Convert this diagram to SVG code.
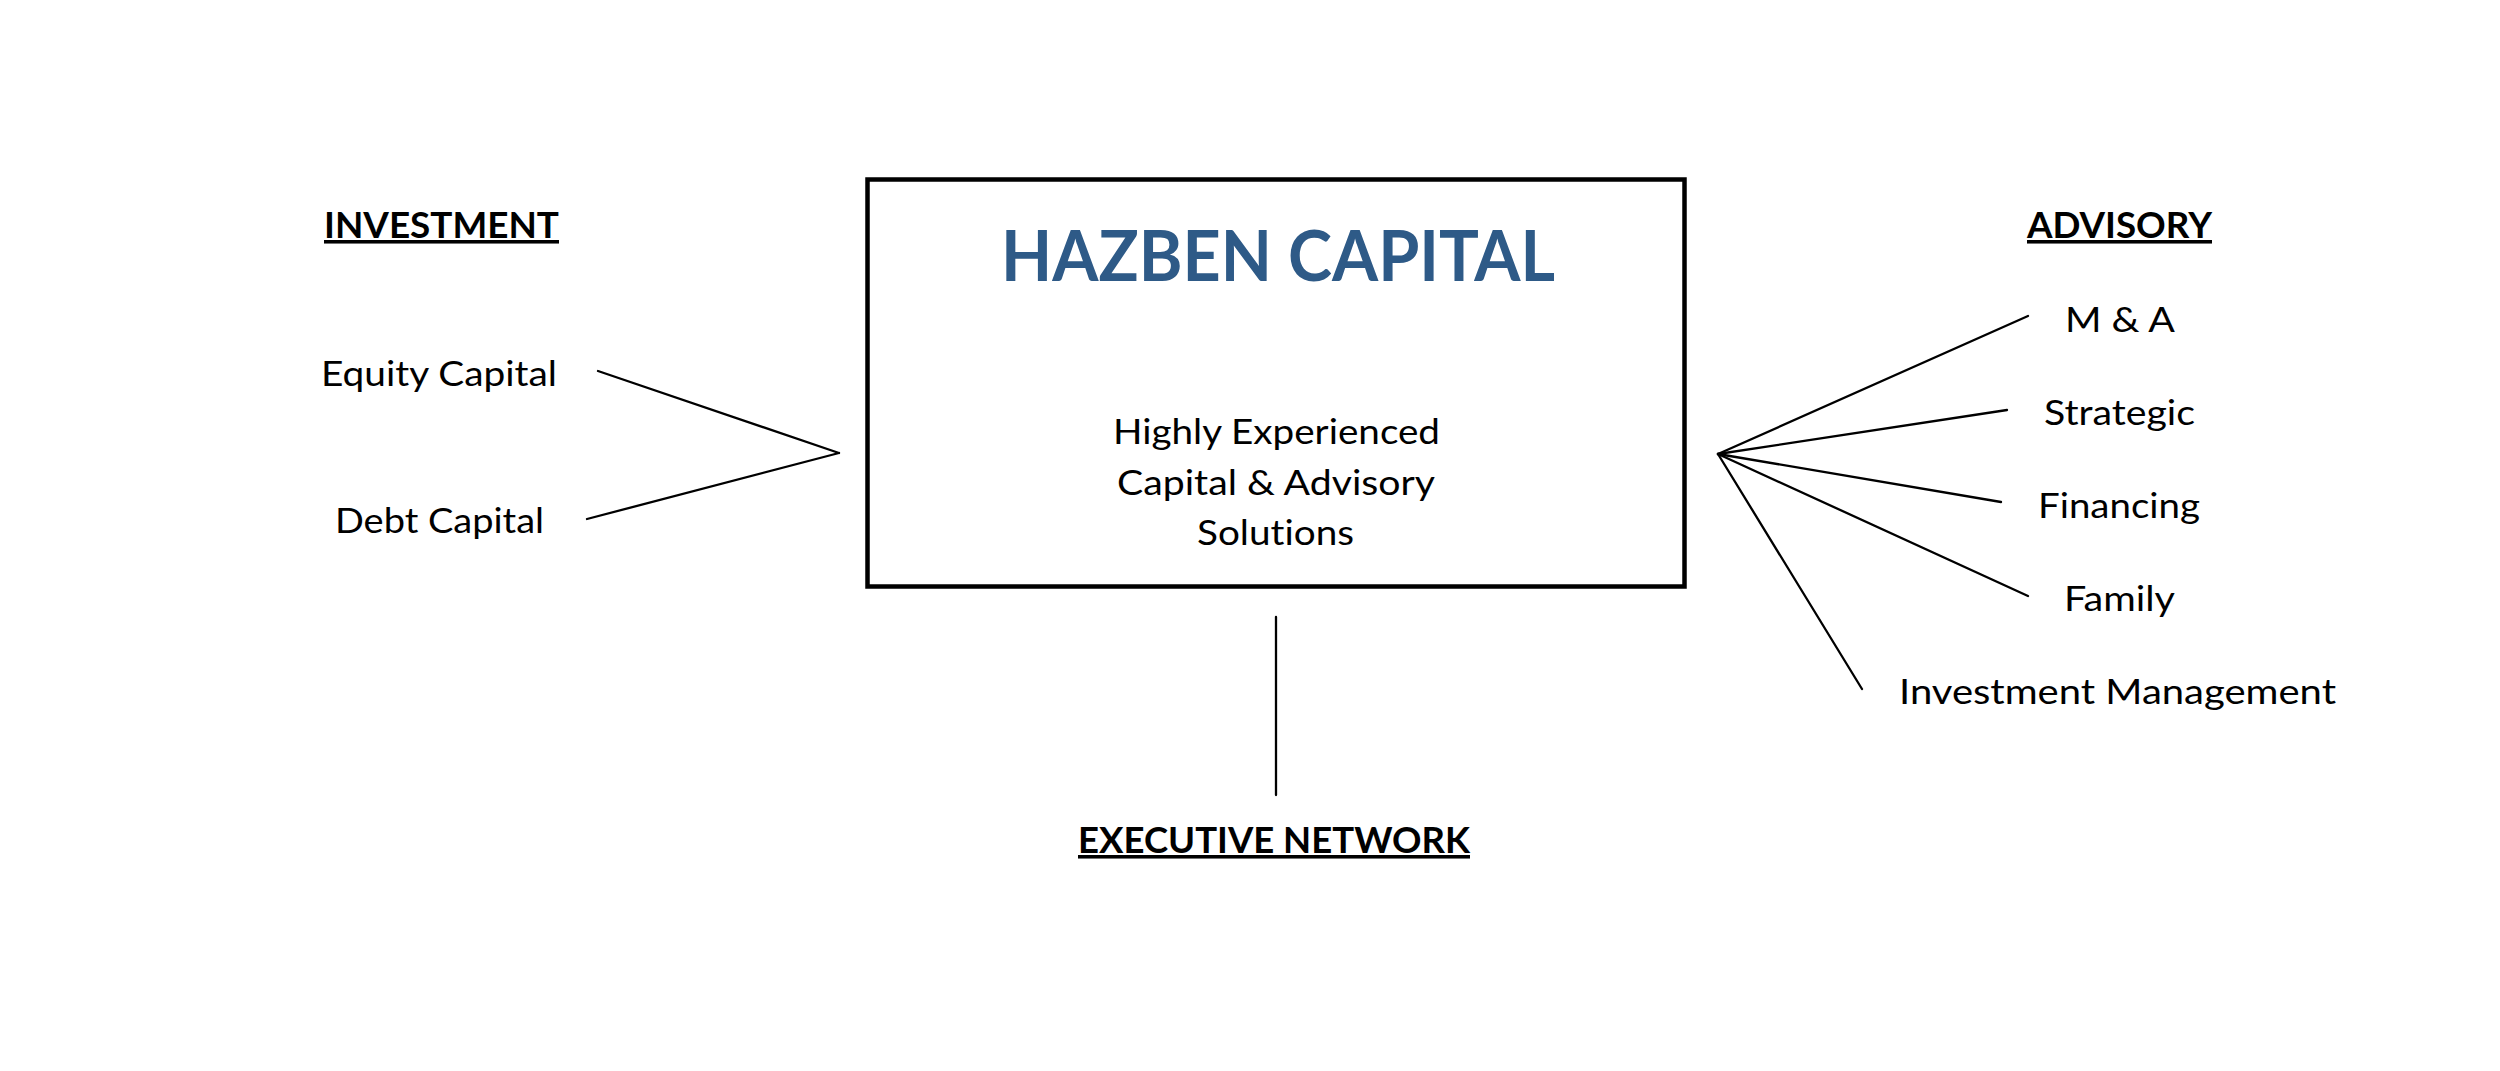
<svg xmlns="http://www.w3.org/2000/svg" width="2500" height="1071" viewBox="0 0 2500 1071">
<style>
text{font-family:Lato,"Open Sans","Liberation Sans",sans-serif;fill:#000;text-anchor:middle;font-variant-ligatures:none}
.h{font-weight:bold;font-size:35.5px;text-decoration:underline}
.t{font-size:35.5px}
.title{font-weight:bold;font-size:71px;fill:#2E5A87}
.c{stroke:#000;stroke-width:2.3;fill:none;stroke-linecap:round}
</style>
<rect width="2500" height="1071" fill="#fff"/>
<g id="connectors">
<line class="c" x1="598" y1="371" x2="839" y2="453"/>
<line class="c" x1="587" y1="519" x2="839" y2="453"/>
<line class="c" x1="1718" y1="454" x2="2028" y2="316"/>
<line class="c" x1="1718" y1="454" x2="2007" y2="410"/>
<line class="c" x1="1718" y1="454" x2="2001" y2="502"/>
<line class="c" x1="1718" y1="454" x2="2028" y2="596"/>
<line class="c" x1="1718" y1="454" x2="1862" y2="689"/>
<line class="c" x1="1276" y1="617" x2="1276" y2="795"/>
</g>
<g id="hazben">
<rect x="867.5" y="179.5" width="817" height="407" fill="#fff" stroke="#000" stroke-width="4.5"/>
<text class="title" x="1278" y="281" textLength="554" lengthAdjust="spacingAndGlyphs">HAZBEN CAPITAL</text>
<text class="t" x="1276.5" y="443.5" textLength="327" lengthAdjust="spacingAndGlyphs">Highly Experienced</text>
<text class="t" x="1276" y="495" textLength="318" lengthAdjust="spacingAndGlyphs">Capital &amp; Advisory</text>
<text class="t" x="1275.5" y="545" textLength="157" lengthAdjust="spacingAndGlyphs">Solutions</text>
</g>
<g id="investment"><text class="h" x="441.5" y="238" textLength="235" lengthAdjust="spacingAndGlyphs">INVESTMENT</text></g>
<g id="equity"><text class="t" x="439" y="386" textLength="236" lengthAdjust="spacingAndGlyphs">Equity Capital</text></g>
<g id="debt"><text class="t" x="439.5" y="533" textLength="209" lengthAdjust="spacingAndGlyphs">Debt Capital</text></g>
<g id="advisory"><text class="h" x="2119.5" y="238" textLength="185" lengthAdjust="spacingAndGlyphs">ADVISORY</text></g>
<g id="ma"><text class="t" x="2120" y="332" textLength="110" lengthAdjust="spacingAndGlyphs">M &amp; A</text></g>
<g id="strategic"><text class="t" x="2119.5" y="425" textLength="151" lengthAdjust="spacingAndGlyphs">Strategic</text></g>
<g id="financing"><text class="t" x="2119" y="518" textLength="162" lengthAdjust="spacingAndGlyphs">Financing</text></g>
<g id="family"><text class="t" x="2119.5" y="611" textLength="111" lengthAdjust="spacingAndGlyphs">Family</text></g>
<g id="invmgmt"><text class="t" x="2117.5" y="704" textLength="437" lengthAdjust="spacingAndGlyphs">Investment Management</text></g>
<g id="executive"><text class="h" x="1274" y="853" textLength="392" lengthAdjust="spacingAndGlyphs">EXECUTIVE NETWORK</text></g>
</svg>
